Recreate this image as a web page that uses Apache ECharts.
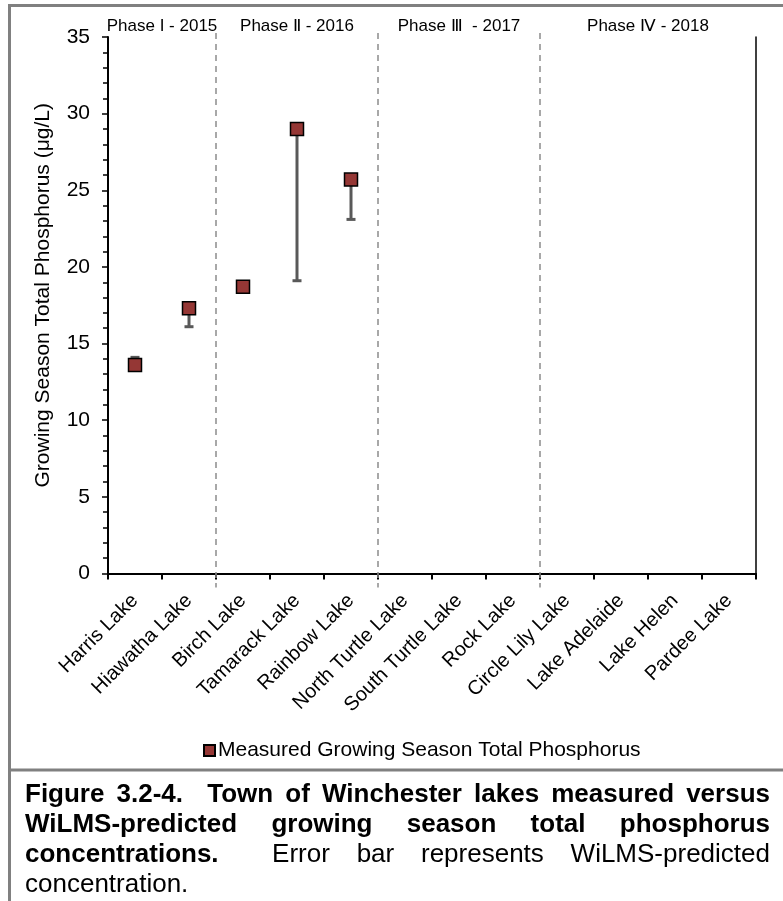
<!DOCTYPE html>
<html>
<head>
<meta charset="utf-8">
<script src="https://cdn.jsdelivr.net/npm/echarts@6/dist/echarts.min.js"></script>
<style>
  html, body { margin: 0; padding: 0; background: #fff; }
  #chart { position: absolute; left: 0; top: 0; width: 783px; height: 901px; }
  #cap { position: absolute; left: 25px; top: 778px; width: 745px;
         font-family: "Liberation Sans", Arial, sans-serif; font-size: 26px; line-height: 30px; color: #000; }
  #cap .j { text-align: justify; text-align-last: justify; }
</style>
</head>
<body>
<div id="chart"></div>
<div id="cap">
  <div class="j"><b>Figure 3.2-4.&nbsp; Town of Winchester lakes measured versus</b></div>
  <div class="j"><b>WiLMS-predicted growing season total phosphorus</b></div>
  <div class="j"><b>concentrations.</b>&nbsp; Error bar represents WiLMS-predicted</div>
  <div>concentration.</div>
</div>
<script>
const categories = ['Harris Lake', 'Hiawatha Lake', 'Birch Lake', 'Tamarack Lake', 'Rainbow Lake',
  'North Turtle Lake', 'South Turtle Lake', 'Rock Lake', 'Circle Lily Lake', 'Lake Adelaide', 'Lake Helen', 'Pardee Lake'];
const measured = [13.6, 17.3, 18.7, 29.0, 25.7, null, null, null, null, null, null, null];
const predicted = [14.1, 16.1, 18.7, 19.1, 23.1, null, null, null, null, null, null, null];
const phaseLabels = ['Phase I - 2015', 'Phase \u2161 - 2016', 'Phase \u2162  - 2017', 'Phase \u2163 - 2018'];
const phaseStart = [0, 2, 5, 8];
const phaseEnd = [1, 4, 7, 11];
const yMin = 0, yMax = 35, yInterval = 5;
const seriesName = 'Measured Growing Season Total Phosphorus';
const yAxisTitle = 'Growing Season Total Phosphorus (\u03bcg/L)';

const FONT = '"Liberation Sans", Arial, sans-serif';

const errData = [];
categories.forEach((c, i) => {
  if (measured[i] != null && predicted[i] != null) errData.push([i, measured[i], predicted[i]]);
});
const phaseData = phaseLabels.map((l, k) => [phaseStart[k], phaseEnd[k], yMax, k]);

const chart = echarts.init(document.getElementById('chart'), null, { renderer: 'canvas' });
chart.setOption({
  animation: false,
  backgroundColor: '#fff',
  textStyle: { fontFamily: FONT },
  grid: { left: 108, right: 27, top: 37, bottom: 327.5, containLabel: false },
  legend: {
    data: [seriesName],
    left: 198, top: 735,
    icon: 'rect', itemWidth: 11, itemHeight: 11, itemGap: 10,
    textStyle: { fontSize: 21, color: '#000', fontFamily: FONT, padding: [0, 0, 0, -2] }
  },
  xAxis: [{
    type: 'category', data: categories, boundaryGap: true,
    axisLine: { lineStyle: { color: '#000', width: 2 } },
    axisTick: { show: true, length: 6, lineStyle: { color: '#000', width: 2 } },
    axisLabel: { rotate: 45, fontSize: 20, color: '#000', margin: 24, interval: 0, fontFamily: FONT },
    splitLine: { show: false }
  }, {
    type: 'category', data: categories, position: 'top',
    axisLine: { lineStyle: { color: '#000', width: 1.5 } },
    axisTick: { show: false }, axisLabel: { show: false }, splitLine: { show: false }
  }],
  yAxis: [{
    type: 'value', min: yMin, max: yMax, interval: yInterval,
    name: yAxisTitle, nameLocation: 'middle', nameGap: 54,
    nameTextStyle: { fontSize: 21, color: '#000', fontFamily: FONT, padding: [0, 0, 0, 20] },
    axisLine: { show: true, lineStyle: { color: '#000', width: 2 } },
    axisTick: { show: true, length: 6, lineStyle: { color: '#000', width: 1.5 } },
    minorTick: { show: true, splitNumber: 5, length: 5, lineStyle: { color: '#000', width: 1.5 } },
    axisLabel: { fontSize: 21, color: '#000', margin: 18, fontFamily: FONT },
    splitLine: { show: false }
  }, {
    type: 'value', min: yMin, max: yMax, interval: yInterval, position: 'right',
    axisLine: { show: true, lineStyle: { color: '#000', width: 1.5 } },
    axisTick: { show: false }, axisLabel: { show: false }, splitLine: { show: false }
  }],
  series: [{
    type: 'custom',
    name: 'phases',
    data: phaseData,
    encode: { x: [0, 1], y: 2 },
    clip: false,
    silent: true,
    z: 1,
    renderItem: function (params, api) {
      const band = api.size([1, 0])[0];
      const s = api.coord([api.value(0), yMax]);
      const e = api.coord([api.value(1), yMax]);
      const bottom = api.coord([api.value(0), yMin])[1];
      const left = s[0] - band / 2, right = e[0] + band / 2;
      const k = api.value(3);
      const children = [{
        type: 'text',
        style: { x: (left + right) / 2, y: s[1] - 11, text: phaseLabels[k], fill: '#000',
                 font: '17px ' + FONT, textAlign: 'center', textVerticalAlign: 'middle' }
      }];
      if (k < phaseLabels.length - 1) {
        children.push({
          type: 'line',
          shape: { x1: right, y1: s[1] - 4, x2: right, y2: bottom + 14 },
          style: { stroke: '#8c8c8c', lineWidth: 1.5, lineDash: [6, 5] }
        });
      }
      return { type: 'group', children: children };
    }
  }, {
    type: 'custom',
    name: 'WiLMS-predicted',
    data: errData,
    encode: { x: 0, y: [1, 2] },
    clip: false,
    z: 2,
    renderItem: function (params, api) {
      const p1 = api.coord([api.value(0), api.value(1)]);
      const p2 = api.coord([api.value(0), api.value(2)]);
      return { type: 'group', children: [
        { type: 'line', shape: { x1: p1[0], y1: p1[1], x2: p2[0], y2: p2[1] },
          style: { stroke: '#595959', lineWidth: 3 } },
        { type: 'line', shape: { x1: p2[0] - 4.5, y1: p2[1], x2: p2[0] + 4.5, y2: p2[1] },
          style: { stroke: '#595959', lineWidth: 3 } }
      ]};
    }
  }, {
    type: 'scatter',
    name: seriesName,
    data: measured,
    symbol: 'rect', symbolSize: 13,
    itemStyle: { color: '#953735', borderColor: '#000', borderWidth: 1.5, opacity: 1 },
    z: 3
  }],
  graphic: [
    { type: 'line', shape: { x1: 9.5, y1: 4, x2: 9.5, y2: 901 }, style: { stroke: '#808080', lineWidth: 3 } },
    { type: 'line', shape: { x1: 8, y1: 5.5, x2: 783, y2: 5.5 }, style: { stroke: '#808080', lineWidth: 3 } },
    { type: 'line', shape: { x1: 8, y1: 770, x2: 783, y2: 770 }, style: { stroke: '#808080', lineWidth: 3 } }
  ]
});
</script>
</body>
</html>
